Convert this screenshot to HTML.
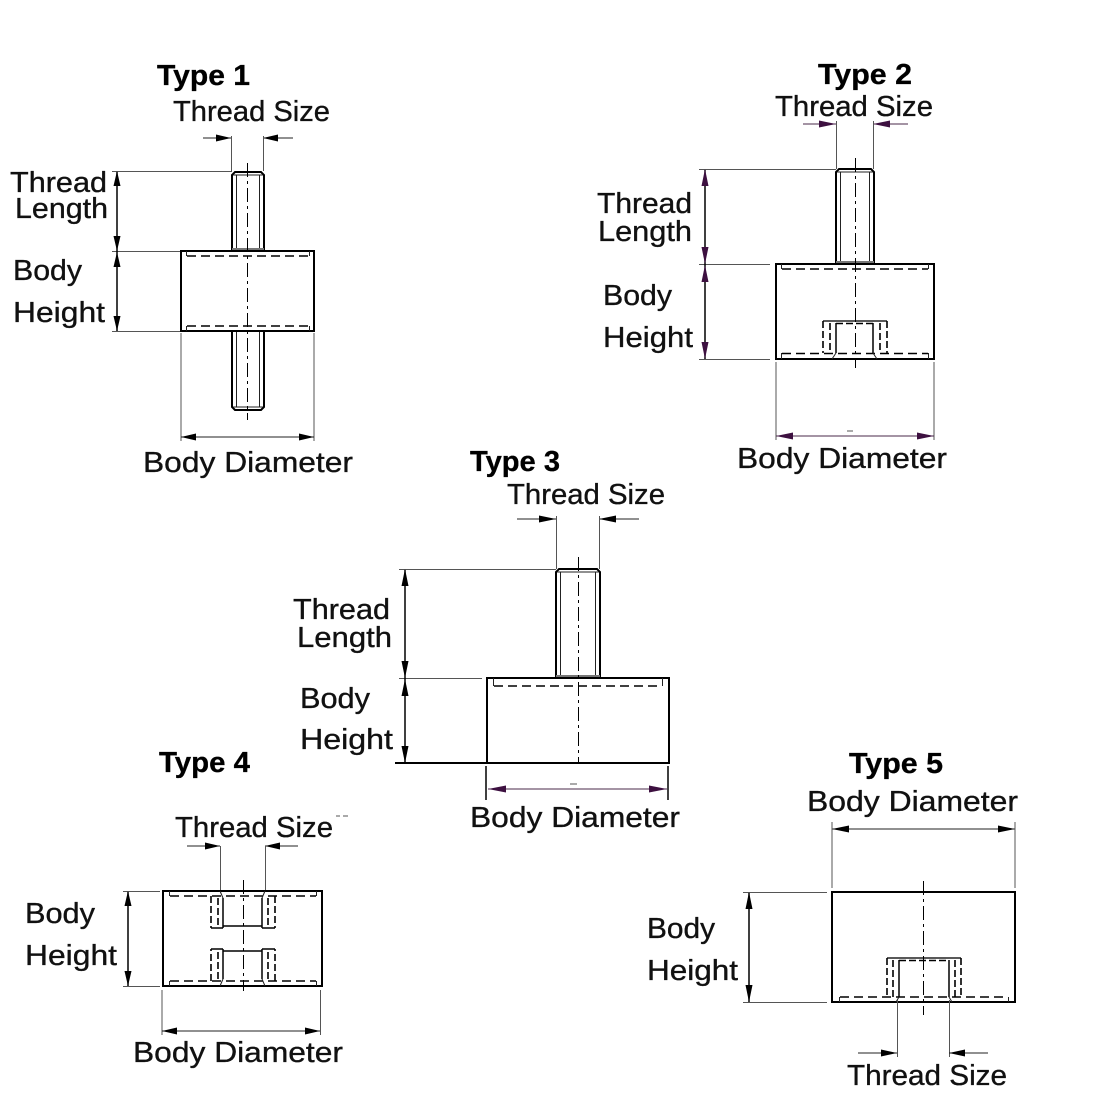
<!DOCTYPE html>
<html><head><meta charset="utf-8"><style>
html,body{margin:0;padding:0;background:#fff;}
svg{display:block;}
text{font-family:"Liberation Sans",Arial,sans-serif;font-size:29px;fill:#111;stroke:#111;stroke-width:0.35;}
.b{font-weight:bold;fill:#000;stroke:#000;stroke-width:0.3;}
.o{stroke:#000;stroke-width:2;fill:none;}
.t{stroke:#222;stroke-width:1;fill:none;}
.e{stroke:#555;stroke-width:1;fill:none;}
.d{stroke:#000;stroke-width:1.6;stroke-dasharray:9 5;fill:none;}
.c{stroke:#000;stroke-width:1;stroke-dasharray:14 4 3 4;fill:none;}
.a{fill:#000;}
.p{fill:#3d1040;}
.pl{stroke:#4a2a4a;stroke-width:1;fill:none;}
</style></head><body>
<svg width="1100" height="1100" viewBox="0 0 1100 1100" xmlns="http://www.w3.org/2000/svg">

<!-- ================= TYPE 1 ================= -->
<text class="b" x="157" y="85" textLength="93" lengthAdjust="spacingAndGlyphs">Type 1</text>
<text x="173" y="121" textLength="157" lengthAdjust="spacingAndGlyphs">Thread Size</text>
<text x="10" y="192" textLength="97" lengthAdjust="spacingAndGlyphs">Thread</text>
<text x="15" y="218" textLength="93" lengthAdjust="spacingAndGlyphs">Length</text>
<text x="13" y="280" textLength="69" lengthAdjust="spacingAndGlyphs">Body</text>
<text x="13" y="322" textLength="92" lengthAdjust="spacingAndGlyphs">Height</text>
<text x="143" y="472" textLength="210" lengthAdjust="spacingAndGlyphs">Body Diameter</text>
<!-- thread size dims -->
<line class="t" x1="203" y1="138" x2="231" y2="138"/>
<polygon class="a" points="231,138 216,134.5 216,141.5"/>
<line class="t" x1="263" y1="138" x2="293" y2="138"/>
<polygon class="a" points="263,138 278,134.5 278,141.5"/>
<line class="e" x1="231.5" y1="136" x2="231.5" y2="171"/>
<line class="e" x1="263.5" y1="136" x2="263.5" y2="171"/>
<!-- studs -->
<path class="o" d="M232,251 V175 L235,172 H261 L264,175 V251"/>
<line class="t" x1="236.5" y1="175" x2="236.5" y2="250"/>
<line class="t" x1="259.5" y1="175" x2="259.5" y2="250"/>
<line class="t" x1="233" y1="175" x2="263" y2="175"/>
<rect x="232" y="248" width="32" height="3" fill="#777"/>
<path class="o" d="M232,331 V407 L235,410 H261 L264,407 V331"/>
<line class="t" x1="236.5" y1="332" x2="236.5" y2="407"/>
<line class="t" x1="259.5" y1="332" x2="259.5" y2="407"/>
<line class="t" x1="233" y1="407" x2="263" y2="407"/>
<!-- body -->
<rect class="o" x="181" y="251" width="133" height="80"/>
<line class="d" x1="187" y1="256" x2="309" y2="256"/>
<line class="t" x1="186.5" y1="251" x2="186.5" y2="256"/>
<line class="t" x1="309.5" y1="251" x2="309.5" y2="256"/>
<line class="d" x1="187" y1="326" x2="309" y2="326"/>
<line class="t" x1="186.5" y1="326" x2="186.5" y2="331"/>
<line class="t" x1="309.5" y1="326" x2="309.5" y2="331"/>
<line class="c" x1="247.5" y1="163" x2="247.5" y2="420"/>
<!-- vertical dims -->
<line class="e" x1="112" y1="171.5" x2="232" y2="171.5"/>
<line class="e" x1="112" y1="251.5" x2="180" y2="251.5"/>
<line class="e" x1="112" y1="331.5" x2="180" y2="331.5"/>
<line class="o" style="stroke-width:1.5" x1="117" y1="172" x2="117" y2="331"/>
<polygon class="a" points="117,171 113.5,186 120.5,186"/>
<polygon class="a" points="117,251 113.5,236 120.5,236"/>
<polygon class="a" points="117,252 113.5,267 120.5,267"/>
<polygon class="a" points="117,331 113.5,316 120.5,316"/>
<!-- body diameter -->
<line class="e" x1="181" y1="333" x2="181" y2="441"/>
<line class="e" x1="314" y1="333" x2="314" y2="441"/>
<line class="t" x1="181" y1="437" x2="314" y2="437"/>
<polygon class="a" points="181,437 196,433.5 196,440.5"/>
<polygon class="a" points="314,437 299,433.5 299,440.5"/>

<!-- ================= TYPE 2 ================= -->
<text class="b" x="818" y="84" textLength="94" lengthAdjust="spacingAndGlyphs">Type 2</text>
<text x="775" y="116" textLength="158" lengthAdjust="spacingAndGlyphs">Thread Size</text>
<text x="597" y="213" textLength="95" lengthAdjust="spacingAndGlyphs">Thread</text>
<text x="598" y="241" textLength="94" lengthAdjust="spacingAndGlyphs">Length</text>
<text x="603" y="305" textLength="69" lengthAdjust="spacingAndGlyphs">Body</text>
<text x="603" y="347" textLength="90" lengthAdjust="spacingAndGlyphs">Height</text>
<text x="737" y="468" textLength="210" lengthAdjust="spacingAndGlyphs">Body Diameter</text>
<line class="pl" x1="803" y1="124" x2="836" y2="124"/>
<polygon class="p" points="836,124 819,120.5 819,127.5"/>
<line class="pl" x1="873" y1="124" x2="908" y2="124"/>
<polygon class="p" points="873,124 890,120.5 890,127.5"/>
<line class="e" x1="836.5" y1="121" x2="836.5" y2="169"/>
<line class="e" x1="873.5" y1="121" x2="873.5" y2="169"/>
<path class="o" d="M836,264 V172 L839,169 H871 L874,172 V264"/>
<line class="t" x1="840.5" y1="172" x2="840.5" y2="263"/>
<line class="t" x1="869.5" y1="172" x2="869.5" y2="263"/>
<line class="t" x1="837" y1="172" x2="873" y2="172"/>
<rect x="836" y="261" width="38" height="3" fill="#777"/>
<rect class="o" x="776" y="264" width="158" height="95"/>
<line class="d" x1="782" y1="269" x2="928" y2="269"/>
<line class="t" x1="781.5" y1="264" x2="781.5" y2="269"/>
<line class="t" x1="928.5" y1="264" x2="928.5" y2="269"/>
<line class="d" x1="782" y1="353.5" x2="928" y2="353.5"/>
<line class="t" x1="781.5" y1="353" x2="781.5" y2="359"/>
<line class="t" x1="928.5" y1="353" x2="928.5" y2="359"/>
<!-- insert -->
<line class="t" style="stroke-width:1.5" x1="823" y1="321" x2="887" y2="321"/>
<line class="d" style="stroke-dasharray:7 3" x1="823" y1="321" x2="823" y2="353"/>
<line class="d" style="stroke-dasharray:7 3" x1="887" y1="321" x2="887" y2="353"/>
<line class="d" style="stroke-dasharray:7 3" x1="830" y1="323" x2="830" y2="353"/>
<line class="d" style="stroke-dasharray:7 3" x1="880" y1="323" x2="880" y2="353"/>
<line class="o" style="stroke-width:1.5" x1="836" y1="323" x2="836" y2="353"/>
<line class="o" style="stroke-width:1.5" x1="873" y1="323" x2="873" y2="353"/>
<line class="d" style="stroke-dasharray:7 3" x1="836" y1="323.5" x2="873" y2="323.5"/>
<line class="t" x1="836" y1="353" x2="832" y2="359"/>
<line class="t" x1="873" y1="353" x2="877" y2="359"/>
<line class="c" x1="855.5" y1="158" x2="855.5" y2="368"/>
<line class="e" x1="699" y1="169.5" x2="836" y2="169.5"/>
<line class="e" x1="699" y1="264.5" x2="770" y2="264.5"/>
<line class="e" x1="699" y1="359.5" x2="770" y2="359.5"/>
<line class="o" style="stroke-width:1.5" x1="705" y1="170" x2="705" y2="359"/>
<polygon class="p" points="705,169 701.5,186 708.5,186"/>
<polygon class="p" points="705,264 701.5,247 708.5,247"/>
<polygon class="p" points="705,265 701.5,282 708.5,282"/>
<polygon class="p" points="705,359 701.5,342 708.5,342"/>
<line class="e" x1="776" y1="362" x2="776" y2="440"/>
<line class="e" x1="934" y1="362" x2="934" y2="440"/>
<line class="pl" x1="776" y1="436" x2="934" y2="436"/>
<polygon class="p" points="776,436 793,432.5 793,439.5"/>
<polygon class="p" points="934,436 917,432.5 917,439.5"/>
<line class="e" x1="847" y1="431" x2="853" y2="431"/>

<!-- ================= TYPE 3 ================= -->
<text class="b" x="470" y="471" textLength="90" lengthAdjust="spacingAndGlyphs">Type 3</text>
<text x="507" y="504" textLength="158" lengthAdjust="spacingAndGlyphs">Thread Size</text>
<text x="293" y="619" textLength="97" lengthAdjust="spacingAndGlyphs">Thread</text>
<text x="297" y="647" textLength="95" lengthAdjust="spacingAndGlyphs">Length</text>
<text x="300" y="708" textLength="70" lengthAdjust="spacingAndGlyphs">Body</text>
<text x="300" y="749" textLength="93" lengthAdjust="spacingAndGlyphs">Height</text>
<text x="470" y="827" textLength="210" lengthAdjust="spacingAndGlyphs">Body Diameter</text>
<line class="t" x1="517" y1="519" x2="556" y2="519"/>
<polygon class="a" points="556,519 539,515.5 539,522.5"/>
<line class="t" x1="599" y1="519" x2="639" y2="519"/>
<polygon class="a" points="599,519 616,515.5 616,522.5"/>
<line class="e" x1="556.5" y1="516" x2="556.5" y2="569"/>
<line class="e" x1="599.5" y1="516" x2="599.5" y2="569"/>
<path class="o" d="M556,678 V572 L559,569 H597 L600,572 V678"/>
<line class="t" x1="560.5" y1="572" x2="560.5" y2="677"/>
<line class="t" x1="595.5" y1="572" x2="595.5" y2="677"/>
<line class="t" x1="557" y1="572" x2="599" y2="572"/>
<rect x="556" y="675" width="44" height="3" fill="#777"/>
<rect class="o" x="487" y="678" width="182" height="85"/>
<line class="d" x1="494" y1="686" x2="662" y2="686"/>
<line class="t" x1="493.5" y1="678" x2="493.5" y2="686"/>
<line class="t" x1="662.5" y1="678" x2="662.5" y2="686"/>
<line class="c" x1="578.5" y1="557" x2="578.5" y2="763"/>
<line class="e" x1="399" y1="569.5" x2="556" y2="569.5"/>
<line class="e" x1="399" y1="678.5" x2="482" y2="678.5"/>
<line class="o" x1="395" y1="763" x2="487" y2="763"/>
<line class="o" style="stroke-width:1.5" x1="405" y1="570" x2="405" y2="763"/>
<polygon class="a" points="405,569 401.5,586 408.5,586"/>
<polygon class="a" points="405,678 401.5,661 408.5,661"/>
<polygon class="a" points="405,679 401.5,696 408.5,696"/>
<polygon class="a" points="405,763 401.5,746 408.5,746"/>
<line class="o" style="stroke-width:1.5" x1="486" y1="766" x2="486" y2="800"/>
<line class="o" style="stroke-width:1.5" x1="668" y1="766" x2="668" y2="800"/>
<line class="pl" x1="488" y1="789" x2="667" y2="789"/>
<polygon class="p" points="488,789 506,785.5 506,792.5"/>
<polygon class="p" points="667,789 649,785.5 649,792.5"/>
<line class="e" x1="570" y1="784" x2="577" y2="784"/>

<!-- ================= TYPE 4 ================= -->
<text class="b" x="159" y="772" textLength="91" lengthAdjust="spacingAndGlyphs">Type 4</text>
<text x="175" y="837" textLength="158" lengthAdjust="spacingAndGlyphs">Thread Size</text>
<line class="e" x1="336" y1="816" x2="340" y2="816"/>
<line class="e" x1="343" y1="816" x2="348" y2="816"/>
<text x="25" y="923" textLength="70" lengthAdjust="spacingAndGlyphs">Body</text>
<text x="25" y="965" textLength="92" lengthAdjust="spacingAndGlyphs">Height</text>
<text x="133" y="1062" textLength="210" lengthAdjust="spacingAndGlyphs">Body Diameter</text>
<line class="t" x1="187" y1="846" x2="220" y2="846"/>
<polygon class="a" points="220,846 205,842.5 205,849.5"/>
<line class="t" x1="265" y1="846" x2="298" y2="846"/>
<polygon class="a" points="265,846 280,842.5 280,849.5"/>
<line class="e" x1="220.5" y1="846" x2="220.5" y2="891"/>
<line class="e" x1="265.5" y1="846" x2="265.5" y2="891"/>
<rect class="o" x="163" y="891" width="159" height="95"/>
<g>
<line class="d" x1="170" y1="896" x2="316" y2="896"/>
<line class="t" x1="169.5" y1="891" x2="169.5" y2="896"/>
<line class="t" x1="316.5" y1="891" x2="316.5" y2="896"/>
<line class="d" style="stroke-dasharray:7 3" x1="211" y1="896" x2="211" y2="928"/>
<line class="d" style="stroke-dasharray:7 3" x1="275" y1="896" x2="275" y2="928"/>
<line class="d" style="stroke-dasharray:7 3" x1="218" y1="898" x2="218" y2="928"/>
<line class="d" style="stroke-dasharray:7 3" x1="268" y1="898" x2="268" y2="928"/>
<line class="o" style="stroke-width:1.5" x1="211" y1="928" x2="223" y2="928"/>
<line class="o" style="stroke-width:1.5" x1="262" y1="928" x2="275" y2="928"/>
<line class="o" style="stroke-width:1.5" x1="223" y1="898" x2="223" y2="928"/>
<line class="o" style="stroke-width:1.5" x1="262" y1="898" x2="262" y2="928"/>
<line class="o" style="stroke-width:1.5" x1="223" y1="926" x2="262" y2="926"/>
<line class="t" x1="220" y1="891" x2="223" y2="898"/>
<line class="t" x1="265" y1="891" x2="262" y2="898"/>
</g>
<g transform="translate(0,1877) scale(1,-1)">
<line class="d" x1="170" y1="896" x2="316" y2="896"/>
<line class="t" x1="169.5" y1="891" x2="169.5" y2="896"/>
<line class="t" x1="316.5" y1="891" x2="316.5" y2="896"/>
<line class="d" style="stroke-dasharray:7 3" x1="211" y1="896" x2="211" y2="928"/>
<line class="d" style="stroke-dasharray:7 3" x1="275" y1="896" x2="275" y2="928"/>
<line class="d" style="stroke-dasharray:7 3" x1="218" y1="898" x2="218" y2="928"/>
<line class="d" style="stroke-dasharray:7 3" x1="268" y1="898" x2="268" y2="928"/>
<line class="o" style="stroke-width:1.5" x1="211" y1="928" x2="223" y2="928"/>
<line class="o" style="stroke-width:1.5" x1="262" y1="928" x2="275" y2="928"/>
<line class="o" style="stroke-width:1.5" x1="223" y1="898" x2="223" y2="928"/>
<line class="o" style="stroke-width:1.5" x1="262" y1="898" x2="262" y2="928"/>
<line class="o" style="stroke-width:1.5" x1="223" y1="926" x2="262" y2="926"/>
<line class="t" x1="220" y1="891" x2="223" y2="898"/>
<line class="t" x1="265" y1="891" x2="262" y2="898"/>
</g>
<line class="c" x1="243.5" y1="880" x2="243.5" y2="991"/>
<line class="e" x1="123" y1="891.5" x2="160" y2="891.5"/>
<line class="e" x1="123" y1="986.5" x2="160" y2="986.5"/>
<line class="o" style="stroke-width:1.5" x1="128" y1="892" x2="128" y2="986"/>
<polygon class="a" points="128,891 124.5,906 131.5,906"/>
<polygon class="a" points="128,986 124.5,971 131.5,971"/>
<line class="e" x1="162" y1="990" x2="162" y2="1035"/>
<line class="e" x1="320.5" y1="990" x2="320.5" y2="1035"/>
<line class="t" x1="162" y1="1031" x2="320" y2="1031"/>
<polygon class="a" points="162,1031 177,1027.5 177,1034.5"/>
<polygon class="a" points="320,1031 305,1027.5 305,1034.5"/>

<!-- ================= TYPE 5 ================= -->
<text class="b" x="849" y="773" textLength="94" lengthAdjust="spacingAndGlyphs">Type 5</text>
<text x="807" y="811" textLength="211" lengthAdjust="spacingAndGlyphs">Body Diameter</text>
<text x="647" y="938" textLength="68" lengthAdjust="spacingAndGlyphs">Body</text>
<text x="647" y="980" textLength="91" lengthAdjust="spacingAndGlyphs">Height</text>
<text x="847" y="1085" textLength="160" lengthAdjust="spacingAndGlyphs">Thread Size</text>
<line class="t" x1="832" y1="829" x2="1015" y2="829"/>
<polygon class="a" points="832,829 849,825.5 849,832.5"/>
<polygon class="a" points="1015,829 998,825.5 998,832.5"/>
<line class="e" x1="832" y1="822" x2="832" y2="888"/>
<line class="e" x1="1015" y1="822" x2="1015" y2="888"/>
<rect class="o" x="832" y="892" width="183" height="110"/>
<line class="d" x1="840" y1="997" x2="1008" y2="997"/>
<line class="t" x1="839.5" y1="997" x2="839.5" y2="1002"/>
<line class="t" x1="1008.5" y1="997" x2="1008.5" y2="1002"/>
<line class="t" style="stroke-width:1.5" x1="887" y1="958" x2="961" y2="958"/>
<line class="d" style="stroke-dasharray:7 3" x1="887" y1="958" x2="887" y2="997"/>
<line class="d" style="stroke-dasharray:7 3" x1="961" y1="958" x2="961" y2="997"/>
<line class="d" style="stroke-dasharray:7 3" x1="893" y1="960" x2="893" y2="997"/>
<line class="d" style="stroke-dasharray:7 3" x1="955" y1="960" x2="955" y2="997"/>
<line class="o" style="stroke-width:1.5" x1="899" y1="960" x2="899" y2="997"/>
<line class="o" style="stroke-width:1.5" x1="949" y1="960" x2="949" y2="997"/>
<line class="d" style="stroke-dasharray:7 3" x1="899" y1="960.5" x2="949" y2="960.5"/>
<line class="t" x1="899" y1="997" x2="896" y2="1002"/>
<line class="t" x1="949" y1="997" x2="952" y2="1002"/>
<line class="c" x1="923.5" y1="881" x2="923.5" y2="1015"/>
<line class="e" x1="743" y1="892.5" x2="827" y2="892.5"/>
<line class="e" x1="743" y1="1002.5" x2="827" y2="1002.5"/>
<line class="o" style="stroke-width:1.5" x1="749" y1="893" x2="749" y2="1002"/>
<polygon class="a" points="749,892 745.5,909 752.5,909"/>
<polygon class="a" points="749,1002 745.5,985 752.5,985"/>
<line class="e" x1="897.5" y1="1000" x2="897.5" y2="1057"/>
<line class="e" x1="949.5" y1="1000" x2="949.5" y2="1057"/>
<line class="t" x1="858" y1="1053" x2="897" y2="1053"/>
<polygon class="a" points="897,1053 881,1049.5 881,1056.5"/>
<line class="t" x1="949" y1="1053" x2="988" y2="1053"/>
<polygon class="a" points="949,1053 965,1049.5 965,1056.5"/>
</svg>
</body></html>
